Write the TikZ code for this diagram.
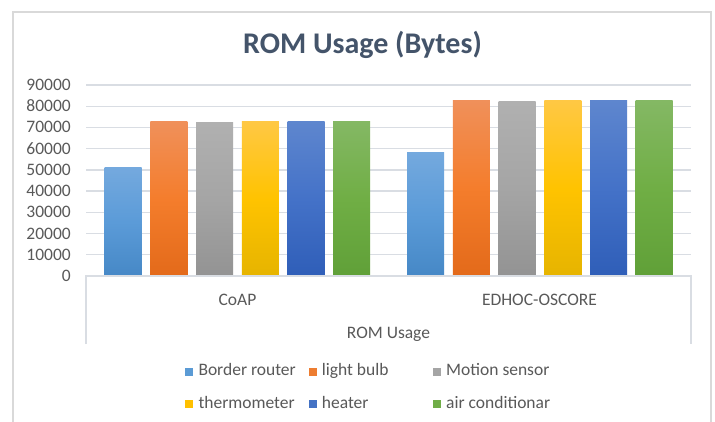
\documentclass[tikz,border=0pt]{standalone}
\usepackage{fontspec}
\setmainfont{Carlito}
\definecolor{titlec}{HTML}{44546A}
\definecolor{textc}{HTML}{595959}
\definecolor{gridc}{HTML}{D9DDE3}
\definecolor{bordc}{HTML}{D9D9D9}
\definecolor{cA}{HTML}{5B9BD5}
\definecolor{cB}{HTML}{ED7D31}
\definecolor{cC}{HTML}{A5A5A5}
\definecolor{cD}{HTML}{FFC000}
\definecolor{cE}{HTML}{4472C4}
\definecolor{cF}{HTML}{70AD47}
\definecolor{tA}{HTML}{74A9DE}\definecolor{mA}{HTML}{5B9BD8}\definecolor{bA}{HTML}{4688C6}
\definecolor{tB}{HTML}{F0905A}\definecolor{mB}{HTML}{F47D2C}\definecolor{bB}{HTML}{E36A1A}
\definecolor{tC}{HTML}{B0B0B0}\definecolor{mC}{HTML}{A5A5A5}\definecolor{bC}{HTML}{939393}
\definecolor{tD}{HTML}{FFC844}\definecolor{mD}{HTML}{FFC300}\definecolor{bD}{HTML}{E6B400}
\definecolor{tE}{HTML}{5E86CE}\definecolor{mE}{HTML}{4472C8}\definecolor{bE}{HTML}{2F5EB8}
\definecolor{tF}{HTML}{84B864}\definecolor{mF}{HTML}{70AE45}\definecolor{bF}{HTML}{60A038}
\tikzset{
  barA/.style={top color=tA, bottom color=bA, middle color=mA},
  barB/.style={top color=tB, bottom color=bB, middle color=mB},
  barC/.style={top color=tC, bottom color=bC, middle color=mC},
  barD/.style={top color=tD, bottom color=bD, middle color=mD},
  barE/.style={top color=tE, bottom color=bE, middle color=mE},
  barF/.style={top color=tF, bottom color=bF, middle color=mF},
  axlab/.style={text=textc, font=\fontsize{17.5}{20}\selectfont, inner sep=0pt},
  catlab/.style={text=textc, font=\fontsize{17.5}{20}\selectfont, inner sep=0pt, anchor=base},
  leglab/.style={text=textc, font=\fontsize{17.5}{20}\selectfont, inner sep=0pt, anchor=base west},
  legsq/.style={inner sep=0pt, minimum size=8pt, anchor=north west},
  gridline/.style={gridc, line width=1.4pt},
}
% value given in thousands of bytes
\newcommand\mybar[3]{\shade[#3] (#1,{276-#2/90*191}) rectangle ({#1+37},276);}
\begin{document}
\begin{tikzpicture}[x=1pt,y=-1pt]
\useasboundingbox (0,0) rectangle (715,421);
\fill[white] (0,0) rectangle (715,421);
% chart border
\draw[bordc, line width=1.5pt] (13,425) -- (13,12) -- (711,12) -- (711,425);
% title
\node[text=titlec, font=\fontsize{30}{36}\selectfont\bfseries, inner sep=0pt, anchor=base] (title) at (362.5,53.5) {ROM Usage (Bytes)};
% gridlines
\foreach \k in {1,...,9}
  \draw[gridline] (86,{276-\k*21.222}) -- (691,{276-\k*21.222});
% axis labels
\foreach \k/\t in {0/0,1/10000,2/20000,3/30000,4/40000,5/50000,6/60000,7/70000,8/80000,9/90000}
  \node[axlab, anchor=base east] (ytick\k) at (71,{276-\k*21.222+5.5}) {\t};
% bars CoAP
\mybar{104.7}{51.0}{barA}
\mybar{150.4}{72.6}{barB}
\mybar{196.1}{72.2}{barC}
\mybar{241.8}{72.7}{barD}
\mybar{287.5}{72.7}{barE}
\mybar{333.2}{72.7}{barF}
% bars EDHOC-OSCORE
\mybar{407.2}{58.3}{barA}
\mybar{452.9}{82.8}{barB}
\mybar{498.6}{82.4}{barC}
\mybar{544.3}{82.8}{barD}
\mybar{590.0}{82.8}{barE}
\mybar{635.7}{82.8}{barF}
% category box
\draw[gridline] (86,344) -- (86,276) -- (691,276) -- (691,344);
\node[catlab] (cat1) at (237.5,305.5) {CoAP};
\node[catlab] (cat2) at (539.5,305.5) {EDHOC-OSCORE};
\node[catlab] (cat0) at (388.5,338.5) {ROM Usage};
% legend
\node[legsq, fill=cA] (sq1) at (184.3,367.3) {};
\node[leglab] (lg1) at (198.3,375.5) {Border router};
\node[legsq, fill=cB] (sq2) at (308.5,367.3) {};
\node[leglab] (lg2) at (321.7,375.5) {light bulb};
\node[legsq, fill=cC] (sq3) at (432.7,367.3) {};
\node[leglab] (lg3) at (446,375.5) {Motion sensor};
\node[legsq, fill=cD] (sq4) at (184.3,399.7) {};
\node[leglab] (lg4) at (198.3,408) {thermometer};
\node[legsq, fill=cE] (sq5) at (308.5,399.7) {};
\node[leglab] (lg5) at (321.7,408) {heater};
\node[legsq, fill=cF] (sq6) at (432.7,399.7) {};
\node[leglab] (lg6) at (446,408) {air conditionar};
\end{tikzpicture}
\end{document}
